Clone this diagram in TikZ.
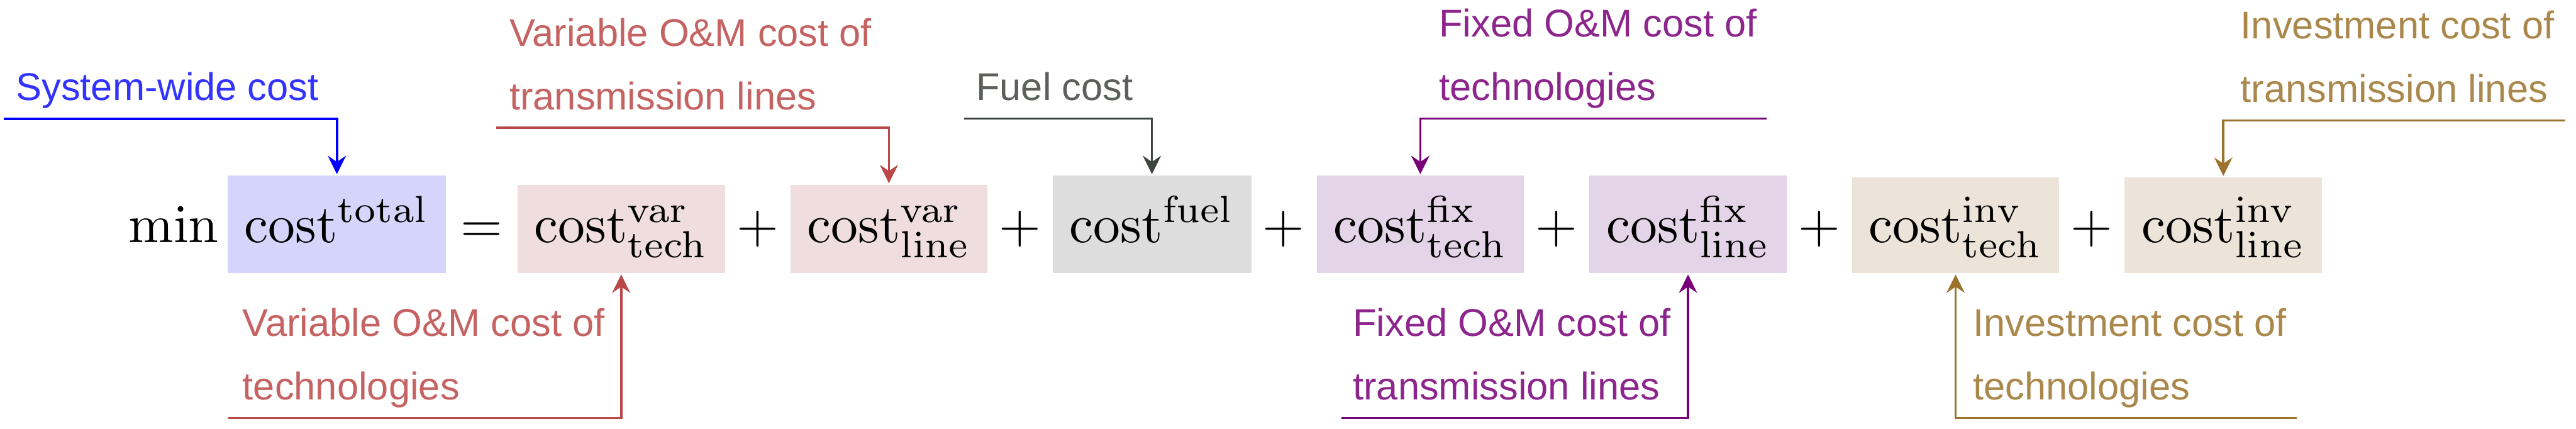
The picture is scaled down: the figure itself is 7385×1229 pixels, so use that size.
\RequirePackage{fix-cm}
\documentclass[tikz,border=0pt]{standalone}
\usepackage[no-math]{fontspec}
\usepackage{graphicx}
\newfontfamily\labelfont{Liberation Sans}
\usetikzlibrary{arrows.meta}
\newcommand\mth[1]{\scalebox{4.4}{$#1$}}
\definecolor{cblue}{RGB}{0,0,255}
\definecolor{cred}{RGB}{187,72,72}
\definecolor{cgray}{RGB}{62,68,62}
\definecolor{cpurp}{RGB}{120,0,120}
\definecolor{cgold}{RGB}{155,115,45}
\definecolor{ftotal}{RGB}{213,213,251}
\definecolor{fvar}{RGB}{240,222,222}
\definecolor{ffuel}{RGB}{221,221,221}
\definecolor{ffix}{RGB}{228,212,231}
\definecolor{finv}{RGB}{236,228,216}
\begin{document}
\begin{tikzpicture}[x=0.01cm,y=-0.01cm,
  term/.style={inner xsep=0pt, inner ysep=0pt, text depth=0.87cm, anchor=base west},
  sym/.style={inner sep=0pt, anchor=base},
  lbl/.style={inner sep=0pt, anchor=base west, font=\labelfont\fontsize{31.5}{51.8}\selectfont},
  conn/.style={line width=1.85pt, -{Stealth[length=15pt,width=14.8pt,inset=5pt]}, shorten >=0.04cm}]
\useasboundingbox (0,0) rectangle (7385,1229);

% terms
\node[term, fill=ftotal, minimum width=6.26cm, text height=1.91cm] (total) at (652,695) {\mth{\mathrm{cost}^{\mathrm{total}}}};
\node[term, fill=fvar, minimum width=5.94cm, text height=1.65cm] (vartech) at (1483,695) {\mth{\mathrm{cost}^{\mathrm{var}}_{\mathrm{tech}}}};
\node[term, fill=fvar, minimum width=5.65cm, text height=1.65cm] (varline) at (2265,695) {\mth{\mathrm{cost}^{\mathrm{var}}_{\mathrm{line}}}};
\node[term, fill=ffuel, minimum width=5.69cm, text height=1.91cm] (fuel) at (3017,695) {\mth{\mathrm{cost}^{\mathrm{fuel}}}};
\node[term, fill=ffix, minimum width=5.94cm, text height=1.91cm] (fixtech) at (3774,695) {\mth{\mathrm{cost}^{\mathrm{fix}}_{\mathrm{tech}}}};
\node[term, fill=ffix, minimum width=5.65cm, text height=1.91cm] (fixline) at (4556,695) {\mth{\mathrm{cost}^{\mathrm{fix}}_{\mathrm{line}}}};
\node[term, fill=finv, minimum width=5.93cm, text height=1.86cm] (invtech) at (5309,695) {\mth{\mathrm{cost}^{\mathrm{inv}}_{\mathrm{tech}}}};
\node[term, fill=finv, minimum width=5.66cm, text height=1.86cm] (invline) at (6090,695) {\mth{\mathrm{cost}^{\mathrm{inv}}_{\mathrm{line}}}};

% operators
\node[sym] (min) at (498,695) {\mth{\min}};
\node[sym] (eq) at (1380,695) {\mth{=}};
\node[sym] (p1) at (2172,695) {\mth{+}};
\node[sym] (p2) at (2924,695) {\mth{+}};
\node[sym] (p3) at (3680,695) {\mth{+}};
\node[sym] (p4) at (4462,695) {\mth{+}};
\node[sym] (p5) at (5215,695) {\mth{+}};
\node[sym] (p6) at (5996,695) {\mth{+}};

% labels
\node[lbl, text=cblue!80] (lsys) at (45,288) {System-wide cost};
\node[lbl, text=cred!85] (lvartop) at (1460,132) {\begin{tabular}[t]{@{}l@{}}Variable O\&M cost of\\transmission lines\end{tabular}};
\node[lbl, text=cgray!85] (lfuel) at (2798,288) {Fuel cost};
\node[lbl, text=cpurp!85] (lfixtop) at (4125,106) {\begin{tabular}[t]{@{}l@{}}Fixed O\&M cost of\\technologies\end{tabular}};
\node[lbl, text=cgold!85] (linvtop) at (6423,111) {\begin{tabular}[t]{@{}l@{}}Investment cost of\\transmission lines\end{tabular}};
\node[lbl, text=cred!85] (lvarbot) at (695,963) {\begin{tabular}[t]{@{}l@{}}Variable O\&M cost of\\technologies\end{tabular}};
\node[lbl, text=cpurp!85] (lfixbot) at (3878,963) {\begin{tabular}[t]{@{}l@{}}Fixed O\&M cost of\\transmission lines\end{tabular}};
\node[lbl, text=cgold!85] (linvbot) at (5656,963) {\begin{tabular}[t]{@{}l@{}}Investment cost of\\technologies\end{tabular}};

% connector free ends
\coordinate (csys) at (10,341);
\coordinate (cvartop) at (1422,366);
\coordinate (cfuel) at (2764,340);
\coordinate (cfixtop) at (5065,340);
\coordinate (cinvtop) at (7354,345);
\coordinate (cvarbot) at (655,1198);
\coordinate (cfixbot) at (3845,1198);
\coordinate (cinvbot) at (6584,1198);

% connectors
\draw[conn, cblue] (csys) -| (total.north);
\draw[conn, cred] (cvartop) -| (varline.north);
\draw[conn, cgray] (cfuel) -| (fuel.north);
\draw[conn, cpurp] (cfixtop) -| (fixtech.north);
\draw[conn, cgold] (cinvtop) -| (invline.north);
\draw[conn, cred] (cvarbot) -| (vartech.south);
\draw[conn, cpurp] (cfixbot) -| (fixline.south);
\draw[conn, cgold] (cinvbot) -| (invtech.south);
\end{tikzpicture}
\end{document}
